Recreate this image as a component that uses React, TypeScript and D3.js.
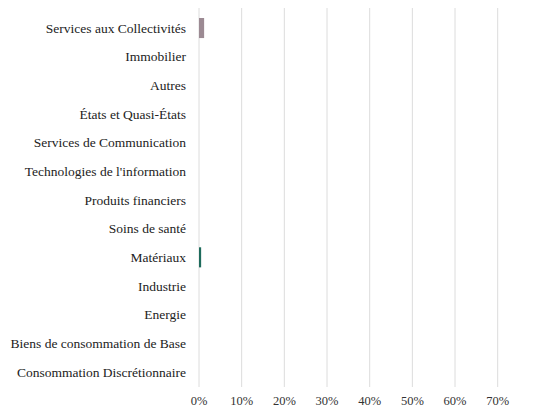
import React from 'react';
import * as d3 from 'd3';

const categories = [
  'Services aux Collectivités',
  'Immobilier',
  'Autres',
  'États et Quasi-États',
  'Services de Communication',
  "Technologies de l'information",
  'Produits financiers',
  'Soins de santé',
  'Matériaux',
  'Industrie',
  'Energie',
  'Biens de consommation de Base',
  'Consommation Discrétionnaire',
];

const values = [0.012, 0, 0, 0, 0, 0, 0, 0, 0.005, 0, 0, 0, 0];
const barColors = ['#9c8a93', '#9c8a93', '#9c8a93', '#9c8a93', '#9c8a93', '#9c8a93', '#9c8a93', '#9c8a93', '#1e6b5c', '#1e6b5c', '#1e6b5c', '#1e6b5c', '#1e6b5c'];
const ticks = [0, 0.1, 0.2, 0.3, 0.4, 0.5, 0.6, 0.7];

const width = 535;
const height = 407;

const App: React.FC = () => {
  const x = d3.scaleLinear().domain([0, 0.7]).range([199, 497.7]);
  const y = d3.scaleBand<string>()
    .domain(categories)
    .range([13.7, 386.3])
    .paddingInner(0.3)
    .paddingOuter(0.15);
  const fmt = d3.format('.0%');

  return (
    <svg width={width} height={height} style={{ position: 'absolute', left: 0, top: 0, fontFamily: 'serif' }}>
      {ticks.map(t => (
        <g key={t}>
          <line x1={x(t)} x2={x(t)} y1={8} y2={387} stroke="#dcdcdc" strokeWidth={1} />
          <text x={x(t)} y={405} textAnchor="middle" fontSize={12.5} fill="#333">{fmt(t)}</text>
        </g>
      ))}
      {categories.map((c, i) => (
        <g key={c}>
          <text x={186} y={(y(c) || 0) + y.bandwidth() / 2} dy="0.35em" textAnchor="end"
            fontSize={13.5} fill="#222">{c}</text>
          {values[i] > 0 && (
            <rect x={x(0)} y={y(c)} width={x(values[i]) - x(0)} height={y.bandwidth()}
              fill={barColors[i]} />
          )}
        </g>
      ))}
    </svg>
  );
};

export default App;
